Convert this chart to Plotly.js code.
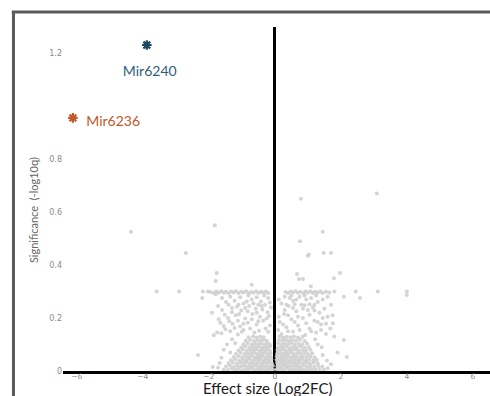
<!DOCTYPE html>
<html>
<head>
<meta charset="utf-8">
<script src="https://cdn.plot.ly/plotly-3.0.1.min.js"></script>
<style>html,body{margin:0;padding:0;background:#fff;}#chart{width:490px;height:396px;}</style>
</head>
<body>
<div id="chart"></div>
<script>
// Background genes: [log2FC, -log10q]
const backgroundGenes = [
  // dense core
  [-1.55,.006],[-1.42,.004],[-1.3,.009],[-1.2,.005],[-1.1,.008],[-1.0,.003],[-0.9,.007],[-0.81,.005],[-0.72,.009],[-0.63,.004],[-0.54,.007],[-0.45,.005],[-0.37,.008],[-0.28,.004],[-0.2,.006],[-0.12,.009],[-0.05,.005],[0.06,.007],[0.13,.004],[0.21,.008],[0.29,.005],[0.38,.009],[0.46,.004],[0.55,.006],[0.64,.008],[0.73,.005],[0.82,.007],[0.92,.004],[1.02,.008],[1.12,.006],[1.23,.005],[1.35,.008],[1.48,.005],
  [-1.48,.017],[-1.36,.02],[-1.24,.016],[-1.13,.019],[-1.02,.017],[-0.92,.021],[-0.83,.016],[-0.74,.019],[-0.65,.018],[-0.56,.021],[-0.47,.016],[-0.39,.02],[-0.3,.017],[-0.22,.019],[-0.14,.016],[-0.06,.02],[0.08,.018],[0.16,.016],[0.24,.021],[0.33,.017],[0.41,.019],[0.5,.016],[0.59,.02],[0.68,.018],[0.77,.016],[0.87,.021],[0.97,.017],[1.08,.019],[1.19,.016],[1.31,.02],[1.44,.017],
  [-1.4,.029],[-1.27,.032],[-1.15,.028],[-1.04,.031],[-0.94,.03],[-0.85,.033],[-0.76,.028],[-0.67,.031],[-0.58,.029],[-0.49,.032],[-0.41,.028],[-0.33,.031],[-0.25,.03],[-0.17,.033],[-0.09,.028],[0.07,.031],[0.15,.029],[0.23,.032],[0.31,.028],[0.4,.031],[0.49,.03],[0.58,.033],[0.67,.028],[0.76,.031],[0.86,.029],[0.96,.032],[1.06,.028],[1.18,.031],[1.3,.029],
  [-1.33,.041],[-1.2,.044],[-1.08,.04],[-0.97,.043],[-0.87,.041],[-0.78,.045],[-0.69,.04],[-0.6,.043],[-0.51,.042],[-0.43,.045],[-0.35,.04],[-0.27,.043],[-0.19,.041],[-0.11,.044],[0.05,.042],[0.13,.04],[0.21,.044],[0.29,.041],[0.37,.043],[0.46,.04],[0.55,.045],[0.64,.042],[0.73,.04],[0.83,.044],[0.93,.041],[1.04,.043],[1.16,.04],[1.27,.042],
  [-1.25,.053],[-1.11,.056],[-0.99,.052],[-0.88,.055],[-0.79,.053],[-0.7,.057],[-0.61,.052],[-0.52,.055],[-0.44,.054],[-0.36,.057],[-0.28,.052],[-0.2,.055],[-0.12,.053],[0.06,.056],[0.14,.052],[0.22,.055],[0.3,.053],[0.38,.057],[0.47,.052],[0.56,.055],[0.65,.054],[0.75,.052],[0.85,.056],[0.96,.053],[1.08,.055],[1.2,.052],
  [-1.18,.065],[-1.04,.068],[-0.92,.064],[-0.82,.067],[-0.72,.065],[-0.63,.069],[-0.54,.064],[-0.45,.067],[-0.37,.066],[-0.29,.069],[-0.21,.064],[-0.13,.067],[0.07,.065],[0.15,.068],[0.23,.064],[0.31,.067],[0.4,.065],[0.49,.069],[0.58,.064],[0.68,.067],[0.78,.065],[0.89,.068],[1.0,.064],[1.13,.067],
  [-1.1,.077],[-0.97,.08],[-0.85,.076],[-0.74,.079],[-0.65,.077],[-0.56,.081],[-0.47,.076],[-0.39,.079],[-0.31,.078],[-0.23,.081],[-0.15,.076],[0.08,.079],[0.16,.077],[0.25,.08],[0.34,.076],[0.43,.079],[0.52,.077],[0.62,.081],[0.72,.076],[0.83,.079],[0.95,.077],[1.08,.08],
  [-1.02,.089],[-0.9,.092],[-0.78,.088],[-0.68,.091],[-0.58,.089],[-0.49,.093],[-0.4,.088],[-0.31,.091],[-0.22,.09],[-0.14,.093],[0.09,.088],[0.18,.091],[0.27,.089],[0.36,.092],[0.46,.088],[0.56,.091],[0.67,.089],[0.78,.093],[0.9,.088],[1.03,.091],
  [-0.95,.101],[-0.82,.104],[-0.7,.1],[-0.6,.103],[-0.5,.101],[-0.41,.105],[-0.32,.1],[-0.24,.103],[-0.16,.101],[0.1,.104],[0.2,.1],[0.29,.103],[0.39,.101],[0.49,.105],[0.6,.1],[0.71,.103],[0.83,.101],[0.97,.104],
  [-0.88,.114],[-0.75,.117],[-0.63,.113],[-0.52,.116],[-0.42,.114],[-0.33,.118],[-0.24,.113],[0.12,.116],[0.22,.114],[0.32,.117],[0.42,.113],[0.53,.116],[0.64,.114],[0.76,.118],[0.9,.113],
  [-0.8,.127],[-0.66,.13],[-0.55,.126],[-0.44,.129],[-0.34,.127],[0.14,.13],[0.25,.126],[0.36,.129],[0.47,.127],[0.58,.13],[0.7,.126],[0.84,.129],
  // sparse edges of the core
  [-1.67,.03],[-1.88,.015],[-2.33,.06],[-1.72,.012],[-1.62,.05],[-1.55,.08],[-1.45,.1],[-1.35,.07],[-1.3,.12],[-1.2,.105],
  [1.6,.01],[1.58,.04],[1.45,.06],[1.42,.09],[1.3,.1],[1.22,.12],[1.7,.025],[2.18,.053],[2.09,.117],[1.9,.07],[1.76,.18],
  // middle zone, left
  [-1.85,.135],[-1.62,.142],[-1.35,.15],[-1.12,.138],[-0.95,.155],[-0.62,.145],[-0.28,.16],
  [-1.55,.17],[-1.28,.178],[-1.05,.168],[-0.82,.182],[-0.55,.175],[-0.35,.19],[-0.15,.172],
  [-1.7,.195],[-1.42,.2],[-1.18,.21],[-0.9,.198],[-0.68,.215],[-0.45,.205],[-0.22,.222],[-1.9,.22],
  [-1.6,.23],[-1.3,.238],[-1.02,.228],[-0.78,.245],[-0.58,.235],[-0.3,.25],[-0.12,.24],
  [-1.48,.26],[-1.22,.265],[-0.95,.255],[-0.7,.27],[-0.42,.262],[-0.2,.275],[-1.1,.25],[-0.85,.262],[-0.5,.25],
  [-1.75,.145],[-1.5,.158],[-1.22,.162],[-1.0,.148],[-0.75,.16],[-0.48,.152],[-0.2,.148],
  [-1.65,.182],[-1.38,.188],[-1.12,.19],[-0.95,.178],[-0.7,.195],[-0.5,.188],[-0.25,.198],
  [-1.52,.212],[-1.3,.222],[-1.08,.215],[-0.82,.225],[-0.55,.22],[-0.38,.232],[-0.18,.208],
  [-1.72,.245],[-1.4,.25],[-1.15,.242],[-0.9,.238],[-0.65,.255],[-0.4,.245],[-0.15,.258],
  [-1.6,.275],[-1.35,.28],[-1.05,.278],[-0.8,.285],[-0.55,.278],[-0.32,.285],
  // middle zone, right
  [0.2,.14],[0.55,.148],[0.92,.136],[1.25,.145],[1.55,.14],[1.8,.13],
  [0.35,.165],[0.7,.172],[1.05,.16],[1.4,.175],[0.15,.185],
  [0.5,.195],[0.85,.2],[1.2,.19],[1.6,.205],[0.28,.215],
  [0.65,.225],[1.0,.23],[1.35,.22],[0.42,.245],[0.8,.25],[1.15,.24],[0.2,.255],
  [0.55,.265],[0.95,.27],[1.3,.26],[1.7,.25],[0.3,.28],[0.75,.28],
  [0.35,.25],[0.6,.252],[0.9,.248],[1.05,.252],[1.2,.25],
  [0.1,.155],[0.4,.15],[0.75,.155],[1.1,.15],[1.4,.155],[1.68,.16],
  [0.25,.175],[0.6,.185],[0.95,.18],[1.3,.185],[1.55,.178],
  [0.12,.205],[0.4,.21],[0.7,.205],[1.05,.212],[1.45,.2],[1.75,.21],
  [0.3,.23],[0.55,.238],[0.85,.235],[1.2,.228],[1.5,.235],
  [0.12,.27],[0.45,.275],[0.65,.27],[1.1,.275],[1.45,.27],[1.6,.28],
  [0.5,.285],[0.9,.285],[1.25,.285],
  // plateau band near 0.3, left
  [-1.95,.298],[-1.85,.294],[-1.78,.3],[-1.7,.296],[-1.62,.301],[-1.55,.295],[-1.48,.299],[-1.4,.293],[-1.33,.3],[-1.25,.296],[-1.18,.301],[-1.1,.294],[-1.02,.299],[-0.95,.296],[-0.87,.301],[-0.8,.293],[-0.72,.298],[-0.65,.295],[-0.57,.301],[-0.5,.294],[-0.42,.299],[-0.35,.296],[-0.27,.3],[-0.2,.294],
  // plateau band near 0.3, right
  [0.32,.298],[0.4,.294],[0.48,.3],[0.55,.296],[0.63,.301],[0.7,.295],[0.78,.299],[0.86,.293],[0.93,.3],[1.0,.296],[1.08,.301],[1.15,.294],[1.22,.299],[1.3,.296],[1.38,.3],[1.45,.294],[1.55,.299],[1.65,.296],[1.8,.3],[2.09,.28],[2.45,.3],[2.58,.275],
  // outliers
  [-4.36,.525],[-1.82,.55],[-2.7,.445],[-1.76,.37],[-1.79,.34],[-3.58,.3],[-2.9,.3],[-2.18,.3],[-2.03,.3],[-1.79,.29],[-2.2,.275],[-0.7,.325],
  [0.79,.65],[3.09,.67],[1.45,.525],[0.76,.49],[1.03,.44],[1.0,.435],[1.48,.445],[1.7,.445],[0.67,.366],[1.97,.37],[1.79,.35],[0.85,.347],[0.73,.347],[1.09,.32],[3.12,.3],[4.0,.3],[4.0,.287]
];

// Highlighted genes
const hiNames = ["Mir6240", "Mir6236"];
const hiX = [-3.88, -6.12];
const hiY = [1.23, 0.955];
const hiColors = ["#1d4a63", "#c4582b"];
const labelColors = ["#2f5f78", "#c4582b"];
const labelX = [-3.79, -4.9];
const labelY = [1.128, 0.936];

const xTicks = [-6, -4, -2, 0, 2, 4, 6];
const yTicks = [0, 0.2, 0.4, 0.6, 0.8, 1.2];

const traces = [
  {
    type: "scatter", mode: "markers",
    x: backgroundGenes.map(d => d[0]),
    y: backgroundGenes.map(d => d[1]),
    marker: {size: 4, color: "#cfcfcf", opacity: 0.9},
    hoverinfo: "skip", showlegend: false
  },
  {
    type: "scatter", mode: "markers",
    x: hiX, y: hiY,
    marker: {symbol: "asterisk-open", size: 8, line: {width: 2.2, color: hiColors}, color: hiColors},
    showlegend: false, cliponaxis: false
  },
  {
    type: "scatter", mode: "text",
    x: labelX, y: labelY, text: hiNames,
    textposition: "middle center",
    textfont: {family: "Lato, 'Open Sans', sans-serif", size: 14, color: labelColors},
    showlegend: false, cliponaxis: false
  }
];

const layout = {
  width: 490, height: 396,
  margin: {l: 63, r: 0, t: 27, b: 25},
  paper_bgcolor: "#fff", plot_bgcolor: "#fff",
  xaxis: {
    range: [-6.42, 6.52], tickvals: xTicks,
    showgrid: false, zeroline: true, zerolinecolor: "#000", zerolinewidth: 3,
    showline: true, linecolor: "#000", linewidth: 3,
    ticks: "", ticklabelstandoff: -4,
    tickfont: {family: "DejaVu Sans, sans-serif", size: 7.5, color: "#8a8a8a"}
  },
  yaxis: {
    range: [0, 1.298], tickvals: yTicks,
    showgrid: false, zeroline: false, showline: false,
    ticks: "", tickfont: {family: "DejaVu Sans, sans-serif", size: 8, color: "#8a8a8a"}
  },
  shapes: [
    {type: "line", xref: "paper", yref: "paper", x0: -0.116, x1: -0.116, y0: 1.045, y1: -0.1, line: {color: "#5a5a5a", width: 3}},
    {type: "line", xref: "paper", yref: "paper", x0: -0.12, x1: 1.01, y0: 1.0436, y1: 1.0436, line: {color: "#5a5a5a", width: 3}}
  ],
  annotations: [
    {xref: "paper", yref: "paper", x: -0.07, y: 0.468, xanchor: "center", yanchor: "middle",
     text: "Significance  (-log10q)", textangle: -90,
     showarrow: false, font: {family: "Lato, 'Open Sans', sans-serif", size: 11, color: "#666"}},
    {xref: "paper", yref: "paper", x: 0.478, y: -0.05, xanchor: "center", yanchor: "middle",
     text: "Effect size (Log2FC)",
     showarrow: false, font: {family: "Lato, 'Open Sans', sans-serif", size: 15, color: "#1a1a1a"}}
  ]
};

Plotly.newPlot("chart", traces, layout, {displayModeBar: false, staticPlot: true});
</script>
</body>
</html>
